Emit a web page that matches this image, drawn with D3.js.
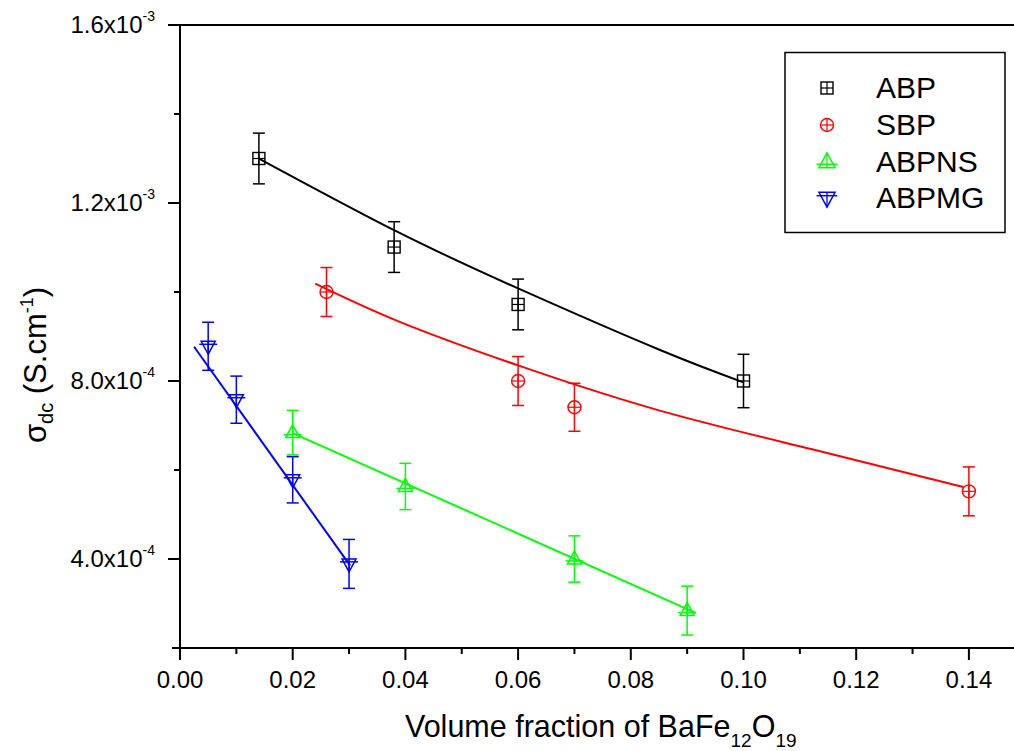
<!DOCTYPE html>
<html>
<head>
<meta charset="utf-8">
<script src="https://cdn.jsdelivr.net/npm/d3@7"></script>
<style>
  html, body { margin: 0; padding: 0; background: #fff; }
  svg { display: block; font-family: "Liberation Sans", Arial, Helvetica, sans-serif; }
</style>
</head>
<body>
<svg id="chart" width="1014" height="751"></svg>
<script>
// ---- Data ----
const seriesNames = ["ABP", "SBP", "ABPNS", "ABPMG"];
const seriesColors = ["#000000", "#ff0000", "#00ff00", "#0000ff"];

const abpX   = [0.014, 0.038, 0.060, 0.100];
const abpY   = [1.300e-3, 1.101e-3, 9.72e-4, 8.00e-4];
const abpErr = [5.7e-5, 5.7e-5, 5.7e-5, 6.0e-5];

const sbpX   = [0.026, 0.060, 0.070, 0.140];
const sbpY   = [1.000e-3, 8.00e-4, 7.41e-4, 5.52e-4];
const sbpErr = [5.5e-5, 5.5e-5, 5.4e-5, 5.5e-5];

const nsX    = [0.020, 0.040, 0.070, 0.090];
const nsY    = [6.84e-4, 5.63e-4, 4.00e-4, 2.84e-4];
const nsErr  = [5.0e-5, 5.2e-5, 5.2e-5, 5.5e-5];

const mgX    = [0.005, 0.010, 0.020, 0.030];
const mgY    = [8.78e-4, 7.58e-4, 5.78e-4, 3.89e-4];
const mgErr  = [5.4e-5, 5.3e-5, 5.2e-5, 5.5e-5];

// fitted curves
const abpFitX = [0.014, 0.038, 0.060, 0.0853, 0.100];
const abpFitY = [1.300e-3, 1.139e-3, 1.008e-3, 8.69e-4, 7.97e-4];
const sbpFitX = [0.024, 0.039, 0.060, 0.085, 0.112, 0.139];
const sbpFitY = [1.019e-3, 9.33e-4, 8.35e-4, 7.34e-4, 6.47e-4, 5.62e-4];
const nsFitX  = [0.020, 0.0915];
const nsFitY  = [6.83e-4, 2.79e-4];
const mgFitX  = [0.0025, 0.0302];
const mgFitY  = [8.77e-4, 3.85e-4];

const xMajorTicks = [0, 0.02, 0.04, 0.06, 0.08, 0.10, 0.12, 0.14];
const xMinorTicks = [0.01, 0.03, 0.05, 0.07, 0.09, 0.11, 0.13];
const yMajorTicks = [4e-4, 8e-4, 1.2e-3, 1.6e-3];
const yMajorMantissa = ["4.0x10", "8.0x10", "1.2x10", "1.6x10"];
const yMajorExp = ["-4", "-4", "-3", "-3"];
const yMinorTicks = [2e-4, 6e-4, 1.0e-3, 1.4e-3];

// ---- Build ----
(function () {
const series = [
  { name: seriesNames[0], color: seriesColors[0], shape: "square",  x: abpX, y: abpY, e: abpErr, fx: abpFitX, fy: abpFitY, curved: true },
  { name: seriesNames[1], color: seriesColors[1], shape: "circle",  x: sbpX, y: sbpY, e: sbpErr, fx: sbpFitX, fy: sbpFitY, curved: true },
  { name: seriesNames[2], color: seriesColors[2], shape: "tri",     x: nsX,  y: nsY,  e: nsErr,  fx: nsFitX,  fy: nsFitY,  curved: false },
  { name: seriesNames[3], color: seriesColors[3], shape: "itri",    x: mgX,  y: mgY,  e: mgErr,  fx: mgFitX,  fy: mgFitY,  curved: false }
];

const svg = d3.select("#chart");
const pL = 180, pT = 25, pB = 648;
const x = d3.scaleLinear().domain([0, 0.15]).range([pL, pL + 0.15 * 5635]);
const y = d3.scaleLinear().domain([2e-4, 1.6e-3]).range([pB, pT]);

// top frame line
svg.append("line").attr("x1", 168).attr("x2", 1014).attr("y1", pT).attr("y2", pT)
  .attr("stroke", "#000").attr("stroke-width", 2);

// x axis
const gx = svg.append("g").attr("transform", `translate(0,${pB})`);
gx.call(d3.axisBottom(x).tickValues(xMajorTicks).tickSize(12).tickFormat(d3.format(".2f")).offset(0));
gx.select(".domain").remove();
gx.selectAll(".tick line").attr("stroke-width", 2);
gx.selectAll(".tick text").attr("font-size", 24).attr("font-family", "Liberation Sans, Arial, sans-serif")
  .attr("fill", "#000").attr("y", 40).attr("dy", 0);
const gxm = svg.append("g").attr("transform", `translate(0,${pB})`);
gxm.call(d3.axisBottom(x).tickValues(xMinorTicks).tickSize(6).tickFormat("").offset(0));
gxm.select(".domain").remove();
gxm.selectAll(".tick line").attr("stroke-width", 2);
svg.append("line").attr("x1", 172).attr("x2", 1014).attr("y1", pB).attr("y2", pB)
  .attr("stroke", "#000").attr("stroke-width", 2);

// y axis
const gy = svg.append("g").attr("transform", `translate(${pL},0)`);
gy.call(d3.axisLeft(y).tickValues(yMajorTicks).tickSize(12).tickFormat("").offset(0));
gy.select(".domain").remove();
gy.selectAll(".tick line").attr("stroke-width", 2);
gy.selectAll(".tick").each(function(d, i) {
  const t = d3.select(this).append("text")
    .attr("x", -25).attr("y", 8).attr("text-anchor", "end")
    .attr("font-size", 24).attr("fill", "#000")
    .attr("font-family", "Liberation Sans, Arial, sans-serif");
  t.append("tspan").text(yMajorMantissa[i]);
  t.append("tspan").attr("font-size", 14).attr("dy", -12).text(yMajorExp[i]);
});
const gym = svg.append("g").attr("transform", `translate(${pL},0)`);
gym.call(d3.axisLeft(y).tickValues(yMinorTicks).tickSize(6).tickFormat("").offset(0));
gym.select(".domain").remove();
gym.selectAll(".tick line").attr("stroke-width", 2);
svg.append("line").attr("x1", pL).attr("x2", pL).attr("y1", pT - 1).attr("y2", pB + 1)
  .attr("stroke", "#000").attr("stroke-width", 2);

// axis titles
const xt = svg.append("text").attr("x", 405).attr("y", 737).attr("font-size", 30.5).attr("fill", "#000");
xt.append("tspan").text("Volume fraction of BaFe");
xt.append("tspan").attr("font-size", 19).attr("dy", 10).text("12");
xt.append("tspan").attr("dy", -10).text("O");
xt.append("tspan").attr("font-size", 19).attr("dy", 10).text("19");

const yt = svg.append("text").attr("transform", "translate(46,365) rotate(-90)")
  .attr("text-anchor", "middle").attr("font-size", 31).attr("fill", "#000");
yt.append("tspan").text("σ");
yt.append("tspan").attr("font-size", 20).attr("dy", 7).text("dc");
yt.append("tspan").attr("dy", -7).text(" (S.cm");
yt.append("tspan").attr("font-size", 18).attr("dy", -13).text("-1");
yt.append("tspan").attr("dy", 13).text(")");

// markers
function drawMarker(g, shape, color, cx, cy, k) {
  const s = 6 * k;
  if (shape === "square") {
    g.append("rect").attr("x", cx - s).attr("y", cy - s).attr("width", 2 * s).attr("height", 2 * s)
      .attr("fill", "none").attr("stroke", color).attr("stroke-width", 1.4);
    g.append("line").attr("x1", cx - s).attr("x2", cx + s).attr("y1", cy).attr("y2", cy).attr("stroke", color).attr("stroke-width", 1.2);
    g.append("line").attr("x1", cx).attr("x2", cx).attr("y1", cy - s).attr("y2", cy + s).attr("stroke", color).attr("stroke-width", 1.2);
  } else if (shape === "circle") {
    const r = 6.5 * k;
    g.append("circle").attr("cx", cx).attr("cy", cy).attr("r", r)
      .attr("fill", "none").attr("stroke", color).attr("stroke-width", 1.4);
    g.append("line").attr("x1", cx - r).attr("x2", cx + r).attr("y1", cy).attr("y2", cy).attr("stroke", color).attr("stroke-width", 1.2);
    g.append("line").attr("x1", cx).attr("x2", cx).attr("y1", cy - r).attr("y2", cy + r).attr("stroke", color).attr("stroke-width", 1.2);
  } else if (shape === "tri") {
    g.append("path").attr("d", `M${cx},${cy - 8 * k}L${cx + 7 * k},${cy + 5 * k}L${cx - 7 * k},${cy + 5 * k}Z`)
      .attr("fill", "none").attr("stroke", color).attr("stroke-width", 1.5);
    g.append("line").attr("x1", cx - 9 * k).attr("x2", cx + 9 * k).attr("y1", cy + 2 * k).attr("y2", cy + 2 * k).attr("stroke", color).attr("stroke-width", 1.5);
    g.append("line").attr("x1", cx).attr("x2", cx).attr("y1", cy - 8 * k).attr("y2", cy + 5 * k).attr("stroke", color).attr("stroke-width", 1.3);
  } else {
    g.append("path").attr("d", `M${cx},${cy + 8 * k}L${cx + 7 * k},${cy - 5 * k}L${cx - 7 * k},${cy - 5 * k}Z`)
      .attr("fill", "none").attr("stroke", color).attr("stroke-width", 1.5);
    g.append("line").attr("x1", cx - 9 * k).attr("x2", cx + 9 * k).attr("y1", cy - 2 * k).attr("y2", cy - 2 * k).attr("stroke", color).attr("stroke-width", 1.5);
    g.append("line").attr("x1", cx).attr("x2", cx).attr("y1", cy - 5 * k).attr("y2", cy + 8 * k).attr("stroke", color).attr("stroke-width", 1.3);
  }
}

const plot = svg.append("g");
series.forEach(s => {
  const g = plot.append("g");
  const fit = s.fx.map((v, i) => [v, s.fy[i]]);
  const line = d3.line().x(d => x(d[0])).y(d => y(d[1]))
    .curve(s.curved ? d3.curveNatural : d3.curveLinear);
  g.append("path").datum(fit).attr("d", line).attr("fill", "none")
    .attr("stroke", s.color).attr("stroke-width", 2);
  s.x.forEach((xv, i) => {
    const cx = x(xv), cy = y(s.y[i]);
    const y1 = y(s.y[i] + s.e[i]), y2 = y(s.y[i] - s.e[i]);
    g.append("line").attr("x1", cx).attr("x2", cx).attr("y1", y1).attr("y2", y2).attr("stroke", s.color).attr("stroke-width", 1.5);
    g.append("line").attr("x1", cx - 6).attr("x2", cx + 6).attr("y1", y1).attr("y2", y1).attr("stroke", s.color).attr("stroke-width", 1.5);
    g.append("line").attr("x1", cx - 6).attr("x2", cx + 6).attr("y1", y2).attr("y2", y2).attr("stroke", s.color).attr("stroke-width", 1.5);
    drawMarker(g, s.shape, s.color, cx, cy, 1);
  });
});

// legend
const lg = svg.append("g");
lg.append("rect").attr("x", 785).attr("y", 52.5).attr("width", 220).attr("height", 180)
  .attr("fill", "#fff").attr("stroke", "#000").attr("stroke-width", 1.5);
const legendRows = [88, 125, 162, 198];
series.forEach((s, i) => {
  drawMarker(lg, s.shape, s.color, 827, legendRows[i], i < 2 ? 1 : 1.15);
  lg.append("text").attr("x", 876).attr("y", legendRows[i] + 9.5).attr("font-size", 30)
    .attr("fill", "#000").text(s.name);
});
})();
</script>
</body>
</html>
